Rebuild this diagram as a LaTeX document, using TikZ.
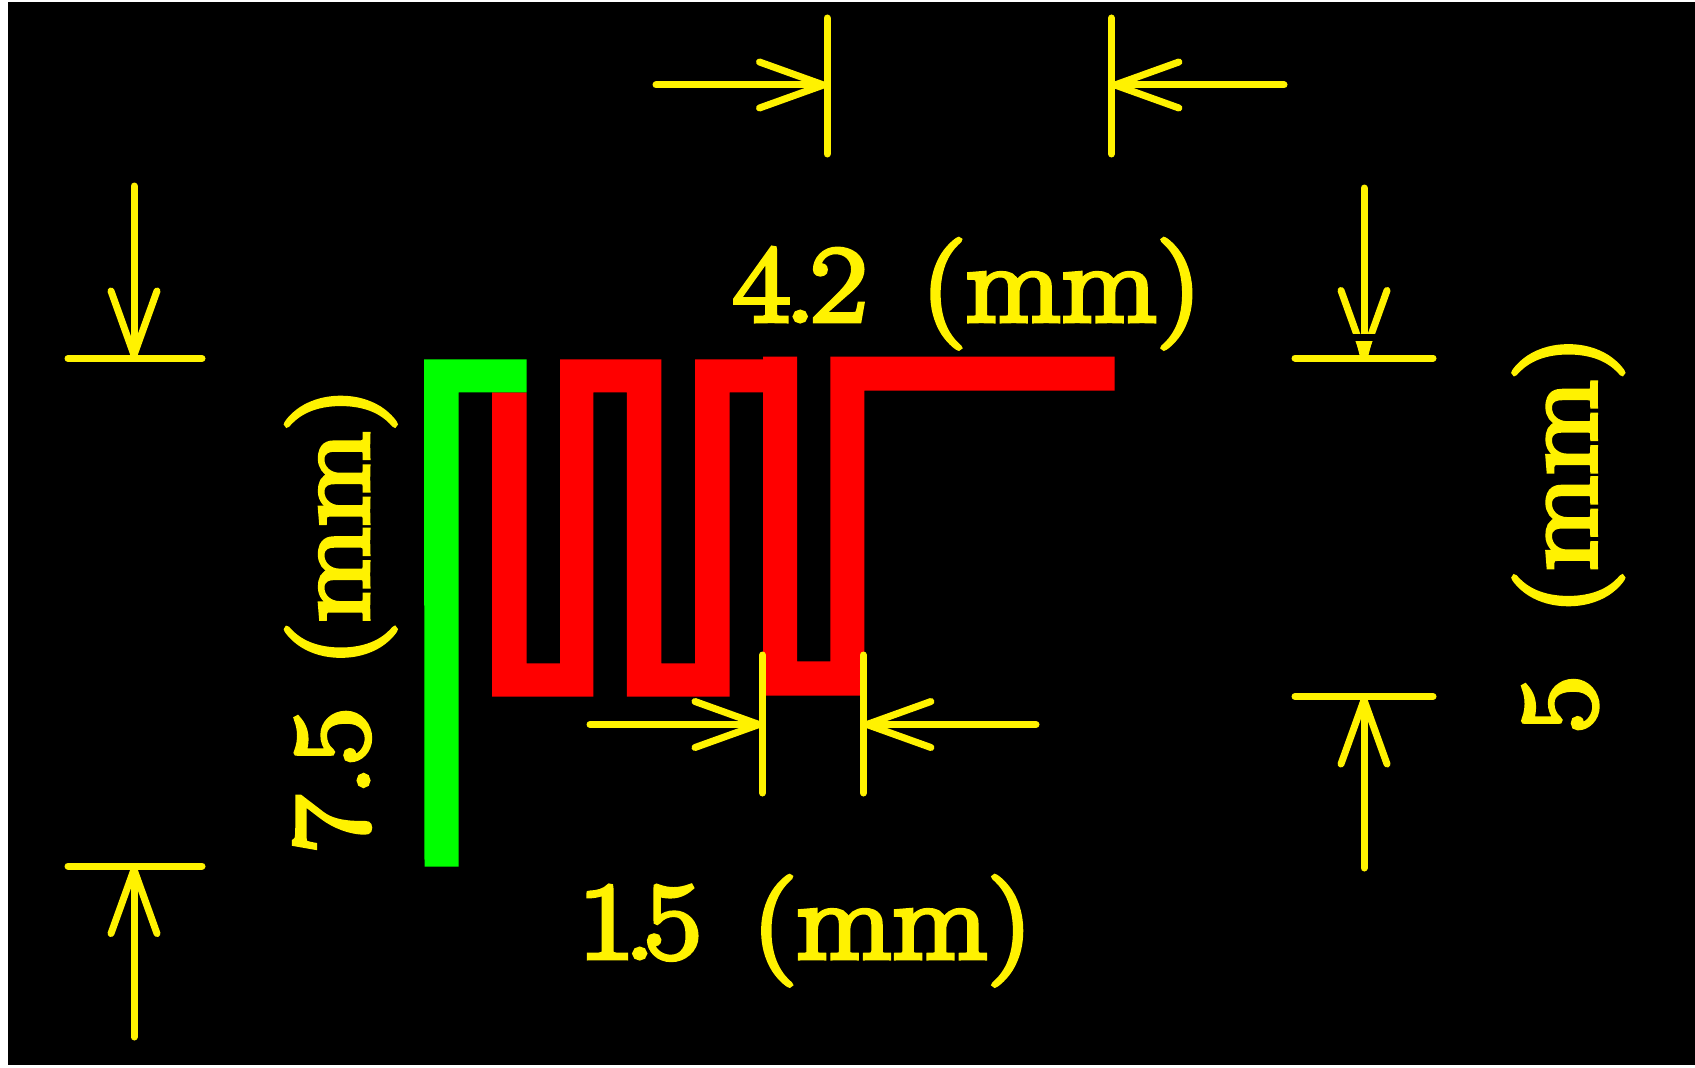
\documentclass[tikz,border=0pt]{standalone}
\usepackage{fontspec}
\setmainfont{Latin Modern Roman}
\newfontfamily\dimfont{Latin Modern Roman}[FakeBold=4.5, FakeStretch=1.14]
\usetikzlibrary{arrows.meta}
\tikzset{
  dimline/.style={yellow, line width=0.07cm, line cap=round},
  dimarrow/.style={dimline, -{Straight Barb[length=0.64cm, width=0.46cm, line width=0.07cm, round]}},
  dimlabel/.style={yellow, anchor=base west, inner sep=0pt, outer sep=0pt, font=\dimfont\fontsize{31}{31}\selectfont},
}

\begin{document}
\begin{tikzpicture}
      \useasboundingbox (0, 0) rectangle (16.95, 10.67);
      \fill[white] (0, 0) rectangle (16.95, 10.67);
      \fill[black] (0.08, 0.02) rectangle (16.95, 10.65);

      \fill[red] (4.92, 6.747) -- (5.265, 6.747) -- (5.265, 4.037) -- (5.6, 4.037) -- (5.6, 7.077)
        -- (6.613, 7.077) -- (6.613, 4.037) -- (6.952, 4.037) -- (6.952, 7.077) -- (7.63, 7.077)
        -- (7.63, 7.103) -- (7.97, 7.103) -- (7.97, 4.057) -- (8.304, 4.057) -- (8.304, 7.103)
        -- (11.145, 7.103) -- (11.145, 6.763) -- (8.644, 6.763) -- (8.644, 3.713) -- (7.63, 3.713)
        -- (7.63, 6.747) -- (7.296, 6.747) -- (7.296, 3.703) -- (6.269, 3.703) -- (6.269, 6.747)
        -- (5.934, 6.747) -- (5.934, 3.703) -- (4.92, 3.703) -- cycle;
      \fill[green] (4.245, 2.005) -- (4.585, 2.005) -- (4.585, 6.747) -- (5.265, 6.747)
        -- (5.265, 7.077) -- (4.24, 7.077) -- cycle;

      \coordinate (topA) at (8.27, 9.82);
      \coordinate (topB) at (11.114, 9.82);
      \coordinate (topAtail) at (6.56, 9.82);
      \coordinate (topBtail) at (12.84, 9.82);
      \draw[dimline] (8.27, 10.49) -- (8.27, 9.13);
      \draw[dimline] (11.114, 10.49) -- (11.114, 9.13);
      \draw[dimarrow] (topAtail) -- (topA);
      \draw[dimarrow] (topBtail) -- (topB);
      \node[dimlabel] (labeltop) at (7.33, 7.46) {4\kern-.05em.\kern-.05em2\hspace{.5em}(mm)};

      \coordinate (lowA) at (7.625, 3.425);
      \coordinate (lowB) at (8.634, 3.425);
      \coordinate (lowAtail) at (5.9, 3.425);
      \coordinate (lowBtail) at (10.36, 3.425);
      \draw[dimline] (7.625, 4.12) -- (7.625, 2.74);
      \draw[dimline] (8.634, 4.12) -- (8.634, 2.74);
      \draw[dimarrow] (lowAtail) -- (lowA);
      \draw[dimarrow] (lowBtail) -- (lowB);
      \node[dimlabel] (labellow) at (5.78, 1.09) {1\kern-.1em.\kern-.1em5\hspace{.47em}(mm)};

      \coordinate (leftA) at (1.34, 7.085);
      \coordinate (leftB) at (1.34, 2.01);
      \coordinate (leftAtail) at (1.34, 8.81);
      \coordinate (leftBtail) at (1.34, 0.3);
      \draw[dimline] (0.68, 7.085) -- (2.02, 7.085);
      \draw[dimline] (0.68, 2.01) -- (2.02, 2.01);
      \draw[dimarrow] (leftAtail) -- (leftA);
      \draw[dimarrow] (leftBtail) -- (leftB);
      \node[dimlabel, rotate=90] (labelleft) at (3.68, 2.14) {7.5\hspace{.38em}(mm)};

      \coordinate (rightA) at (13.64, 7.09);
      \coordinate (rightB) at (13.64, 3.705);
      \coordinate (rightAtail) at (13.64, 8.79);
      \coordinate (rightBtail) at (13.64, 1.99);
      \draw[dimline] (12.95, 7.09) -- (14.33, 7.09);
      \draw[dimline] (12.95, 3.705) -- (14.33, 3.705);
      \draw[dimarrow] (rightAtail) -- (rightA);
      \draw[dimarrow] (rightBtail) -- (rightB);
      \fill[black] (13.45, 7.26) rectangle (13.83, 7.33);
      \fill[yellow] (13.56, 7.26) -- (13.72, 7.26) -- (13.68, 7.1) -- (13.6, 7.1) -- cycle;
      \node[dimlabel, rotate=90] (labelright) at (15.955, 3.34) {5\hspace{.56em}(mm)};
  \end{tikzpicture}
\end{document}
